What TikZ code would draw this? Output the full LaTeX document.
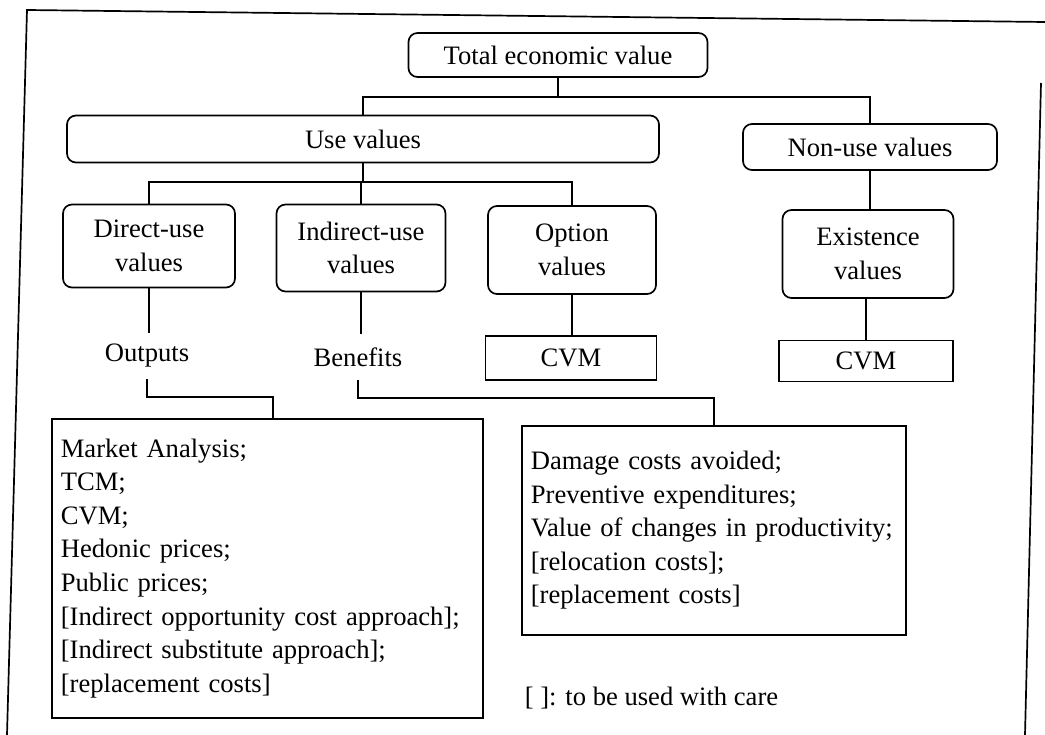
\documentclass[tikz,border=0pt]{standalone}
\usepackage{fontspec}
\setmainfont{Liberation Serif}
\begin{document}
\begin{tikzpicture}[x=1pt,y=-1pt,
  line width=1.7pt,
  every node/.style={font=\fontsize{26.6}{33.6}\selectfont, inner sep=0pt},
  rbox/.style={draw, rounded corners=9pt, align=center},
  sbox/.style={draw, align=center},
  listbox/.style={draw, align=left, anchor=north west, inner xsep=9pt},
  label/.style={align=center, minimum height=44pt}]
\useasboundingbox (0,0) rectangle (1045,735);

% outer frame
\draw (1045,22) -- (27,10) -- (7,735);
\draw (1041,83) -- (1025,735);

% hierarchy of values
\node[rbox, minimum width=299pt, minimum height=44pt] (tev) at (558,55) {Total economic value};
\node[rbox, minimum width=592pt, minimum height=47pt] (use) at (363,139) {Use values};
\node[rbox, minimum width=254pt, minimum height=46pt] (nonuse) at (870,147) {Non-use values};

\node[rbox, minimum width=172pt, minimum height=83pt] (direct) at (149,246) {Direct-use\\values};
\node[rbox, minimum width=169pt, minimum height=87pt] (indirect) at (361,248) {Indirect-use\\values};
\node[rbox, minimum width=168pt, minimum height=88pt] (option) at (572,250) {Option\\values};
\node[rbox, minimum width=171pt, minimum height=88pt] (exist) at (868,254) {Existence\\values};

\node[label] (outputs) at (147,356) {Outputs};
\node[label] (benefits) at (358,357) {Benefits};
\node[sbox, minimum width=171pt, minimum height=44pt] (cvmA) at (571,358) {CVM};
\node[sbox, minimum width=174pt, minimum height=41pt] (cvmB) at (866,361) {CVM};

% valuation methods
\node[listbox, text width=413pt, minimum height=299pt] (market) at (51,418) {Market Analysis;\\TCM;\\CVM;\\Hedonic prices;\\Public prices;\\{[Indirect} opportunity cost approach];\\{[Indirect} substitute approach];\\{[replacement} costs]};
\node[listbox, text width=366pt, minimum height=209pt] (damage) at (521,425) {Damage costs avoided;\\Preventive expenditures;\\Value of changes in productivity;\\{[relocation} costs];\\{[replacement} costs]};

\node[anchor=west] (note) at (524,698) {[ ]: to be used with care};

% connectors
\coordinate (b1) at (558,97);
\draw (tev.south) -- (b1);
\draw (use.north) |- (b1) -| (nonuse.north);

\coordinate (b2) at (363,182);
\draw (use.south) -- (b2);
\draw (direct.north) |- (b2) -| (option.north);
\draw (indirect.north) -- (indirect.north |- b2);

\draw (nonuse.south) -- (nonuse.south |- exist.north);
\draw (direct.south) -- (direct.south |- outputs.north);
\draw (indirect.south) -- (indirect.south |- benefits.north);
\draw (option.south) -- (option.south |- cvmA.north);
\draw (cvmB.north) -- (cvmB.north |- exist.south);

\coordinate (c1) at (273,397);
\draw (outputs.south) |- (c1) -- (c1 |- market.north);
\coordinate (c2) at (714,398);
\draw (benefits.south) |- (c2) -- (c2 |- damage.north);
\end{tikzpicture}
\end{document}
